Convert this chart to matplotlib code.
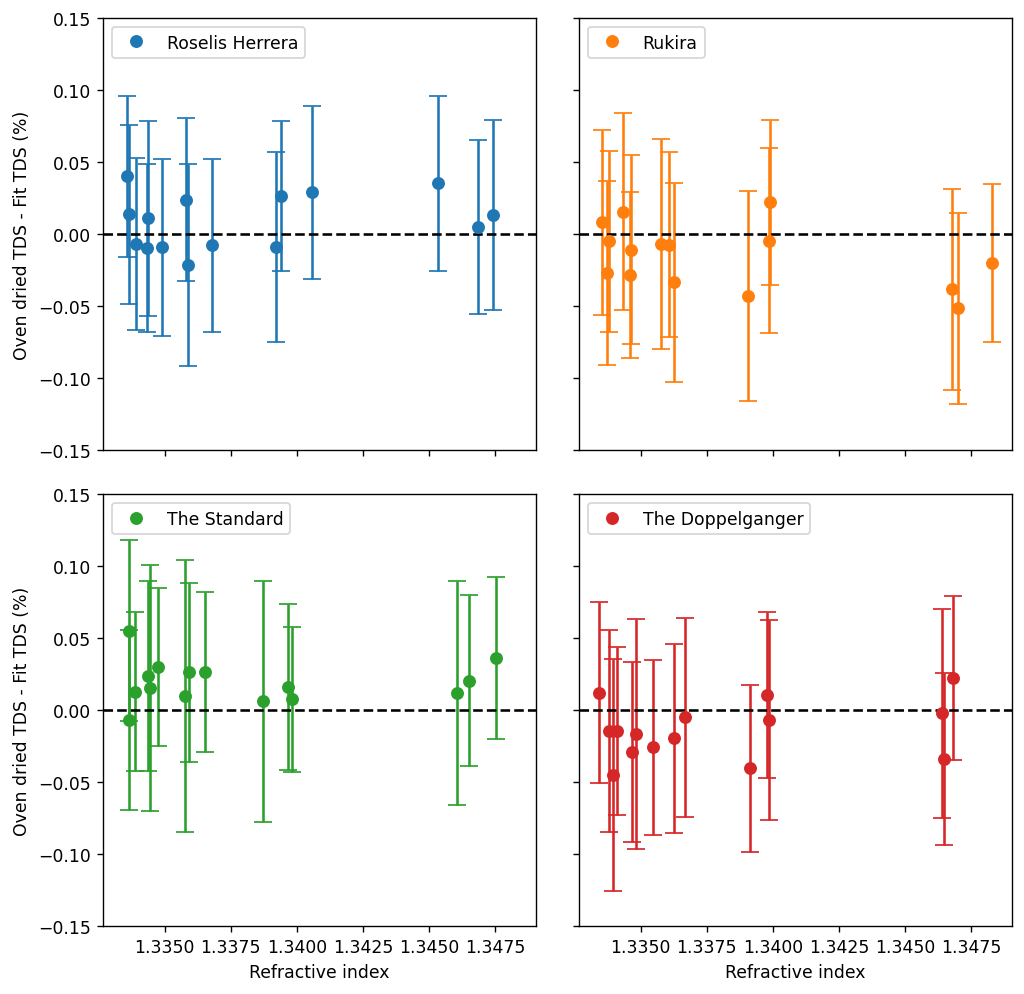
#굴절률 vs 오븐건조 TDS 잔차 (브랜드별 2x2)
import matplotlib.pyplot as plt

#Roselis Herrera
rh_ri = [1.33357, 1.33366, 1.33393, 1.33437, 1.33434, 1.33490, 1.33581, 1.33588,
         1.33678, 1.33921, 1.33938, 1.34056, 1.34533, 1.34686, 1.34740]
rh_diff = [0.0400, 0.0137, -0.0069, 0.0109, -0.0097, -0.0093, 0.0238, -0.0215,
           -0.0079, -0.0093, 0.0262, 0.0289, 0.0352, 0.0051, 0.0134]
rh_err = [0.0560, 0.0623, 0.0600, 0.0678, 0.0586, 0.0616, 0.0567, 0.0699,
          0.0602, 0.0660, 0.0521, 0.0600, 0.0606, 0.0604, 0.0660]

#Rukira
rk_ri = [1.33354, 1.33380, 1.33371, 1.33433, 1.33465, 1.33458, 1.33578, 1.33607,
         1.33625, 1.33907, 1.33989, 1.33986, 1.34678, 1.34702, 1.34830]
rk_diff = [0.0081, -0.0051, -0.0271, 0.0155, -0.0109, -0.0287, -0.0069, -0.0074,
           -0.0336, -0.0428, 0.0220, -0.0046, -0.0384, -0.0516, -0.0199]
rk_err = [0.0641, 0.0630, 0.0641, 0.0683, 0.0657, 0.0577, 0.0727, 0.0640,
          0.0690, 0.0729, 0.0572, 0.0643, 0.0699, 0.0662, 0.0549]

#The Standard
st_ri = [1.33365, 1.33365, 1.33389, 1.33437, 1.33444, 1.33475, 1.33575, 1.33593,
         1.33653, 1.33871, 1.33965, 1.33980, 1.34604, 1.34650, 1.34753]
st_diff = [0.0551, -0.0067, 0.0127, 0.0236, 0.0155, 0.0301, 0.0100, 0.0262,
           0.0262, 0.0060, 0.0160, 0.0074, 0.0120, 0.0204, 0.0361]
st_err = [0.0630, 0.0625, 0.0551, 0.0662, 0.0854, 0.0549, 0.0944, 0.0620,
          0.0556, 0.0838, 0.0576, 0.0505, 0.0778, 0.0593, 0.0560]

#The Doppelganger
dp_ri = [1.33341, 1.33380, 1.33394, 1.33410, 1.33467, 1.33481, 1.33547, 1.33625,
         1.33669, 1.33914, 1.33977, 1.33987, 1.34640, 1.34647, 1.34682]
dp_diff = [0.0120, -0.0144, -0.0451, -0.0148, -0.0294, -0.0167, -0.0259, -0.0197,
           -0.0051, -0.0405, 0.0102, -0.0067, -0.0023, -0.0340, 0.0222]
dp_err = [0.0627, 0.0701, 0.0806, 0.0583, 0.0625, 0.0799, 0.0606, 0.0655,
          0.0690, 0.0579, 0.0576, 0.0694, 0.0725, 0.0600, 0.0572]

names = ['Roselis Herrera', 'Rukira', 'The Standard', 'The Doppelganger']
data = [(rh_ri, rh_diff, rh_err), (rk_ri, rk_diff, rk_err),
        (st_ri, st_diff, st_err), (dp_ri, dp_diff, dp_err)]
colors = ['C0', 'C1', 'C2', 'C3']

fig, axes = plt.subplots(2, 2, figsize=(1024/124, 995/124), dpi=124,
                         sharex=True, sharey=True)
fig.subplots_adjust(left=0.1006, right=0.9883, top=0.9809, bottom=0.0683,
                    wspace=0.0993, hspace=0.102)

for ax, name, (ri, diff, err), c in zip(axes.flat, names, data, colors):
    eb = ax.errorbar(ri, diff, yerr=err, fmt='o', ms=6.5, color=c, capsize=5)
    ax.axhline(0, color='k', linestyle='--')
    ax.set_ylim(-0.15, 0.15)
    ax.legend([eb[0]], [name], loc='upper left')

for ax in axes[:, 0]:
    ax.set_ylabel('Oven dried TDS - Fit TDS (%)')
for ax in axes[1, :]:
    ax.set_xlabel('Refractive index')

fig.savefig('out.png', dpi=124)
